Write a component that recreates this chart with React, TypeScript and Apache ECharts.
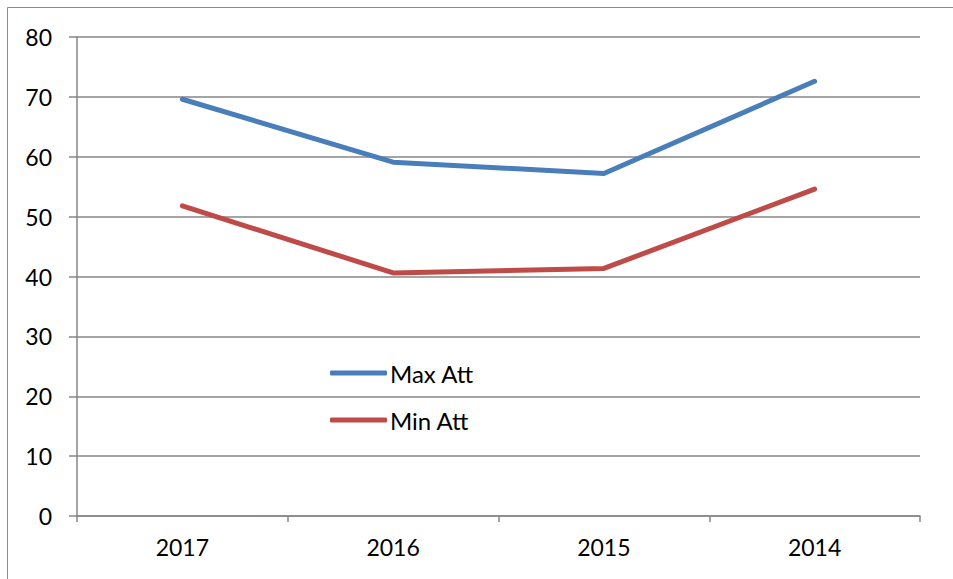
import React, { useEffect, useRef } from "react";
import * as echarts from "echarts";

const categories = ["2017", "2016", "2015", "2014"];
const maxAtt = [69.6, 59.1, 57.2, 72.6];
const minAtt = [51.8, 40.6, 41.35, 54.6];
const seriesNames = ["Max Att", "Min Att"];
const yTicks = { min: 0, max: 80, interval: 10 };

const FONT = "Lato, 'Open Sans', sans-serif";

export default function App() {
  const ref = useRef<HTMLDivElement>(null);
  useEffect(() => {
    if (!ref.current) return;
    const chart = echarts.init(ref.current, undefined, { renderer: "svg" });
    chart.setOption({
      animation: false,
      backgroundColor: "#ffffff",
      textStyle: { fontFamily: FONT },
      graphic: [
        {
          type: "rect",
          shape: { x: 7.5, y: 7.5, width: 1000, height: 1000 },
          style: { fill: "none", stroke: "#8c8c8c", lineWidth: 1 },
          silent: true,
        },
      ],
      grid: { left: 77, top: 37, right: 33, bottom: 63, containLabel: false },
      legend: {
        orient: "vertical",
        left: 325,
        top: 356,
        itemWidth: 57,
        itemHeight: 5,
        itemGap: 23,
        icon: "roundRect",
        textStyle: { fontFamily: FONT, fontSize: 24, color: "#000", padding: [0, 0, 0, -2], lineHeight: 24 },
        data: seriesNames,
      },
      xAxis: {
        type: "category",
        data: categories,
        boundaryGap: true,
        axisLine: { show: true, lineStyle: { color: "#868686", width: 1.5 } },
        axisTick: { show: true, length: 6, interval: 0, lineStyle: { color: "#868686", width: 1.5 } },
        axisLabel: { fontFamily: FONT, fontSize: 23, color: "#000", margin: 19 },
        splitLine: { show: false },
      },
      yAxis: {
        type: "value",
        min: yTicks.min,
        max: yTicks.max,
        interval: yTicks.interval,
        axisLine: { show: true, lineStyle: { color: "#868686", width: 1.5 } },
        axisTick: { show: true, length: 8, lineStyle: { color: "#868686", width: 1.5 } },
        axisLabel: { fontFamily: FONT, fontSize: 23, color: "#000", margin: 25 },
        splitLine: { show: true, lineStyle: { color: "#868686", width: 1.5 } },
      },
      series: [
        {
          name: seriesNames[0],
          type: "line",
          data: maxAtt,
          symbol: "none",
          lineStyle: { color: "#4a7ebb", width: 5, cap: "round", join: "round" },
          itemStyle: { color: "#4a7ebb" },
        },
        {
          name: seriesNames[1],
          type: "line",
          data: minAtt,
          symbol: "none",
          lineStyle: { color: "#be4b48", width: 5, cap: "round", join: "round" },
          itemStyle: { color: "#be4b48" },
        },
      ],
    });
    return () => chart.dispose();
  }, []);
  return (
    <div
      ref={ref}
      style={{ position: "absolute", left: 0, top: 0, width: 953, height: 579 }}
    />
  );
}
